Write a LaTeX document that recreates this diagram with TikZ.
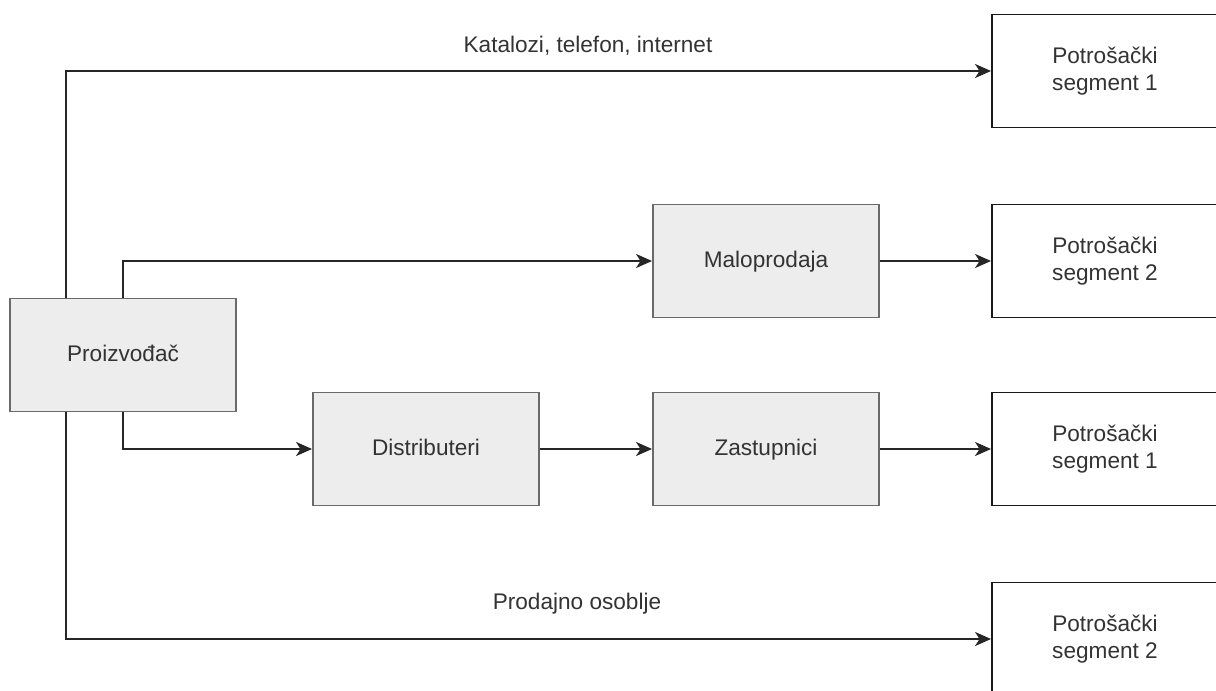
\documentclass[tikz,border=0pt]{standalone}
\usepackage{fontspec}
\setmainfont{Liberation Sans}
\usetikzlibrary{arrows.meta}
\definecolor{txt}{HTML}{333333}
\definecolor{gfill}{HTML}{EDEDED}
\definecolor{gdraw}{HTML}{6A6A6A}
\begin{document}
\begin{tikzpicture}[x=1pt,y=-1pt,
  base/.style={rectangle, minimum width=226pt, minimum height=113pt, inner sep=0pt,
    line width=1.9pt, font=\fontsize{22.6}{26.5}\selectfont, text=txt, align=center},
  graybox/.style={base, fill=gfill, draw=gdraw, text height=16.5pt, text depth=4.5pt},
  whitebox/.style={base, fill=white, draw=black!90},
  conn/.style={line width=2pt, draw=black!85, -{Stealth[length=16pt,width=14pt,inset=4.5pt]}},
  lbl/.style={font=\fontsize{22.6}{26.5}\selectfont, text=txt, inner sep=0pt}]
\useasboundingbox[fill=white] (0,0) rectangle (1216,691);
\node[graybox] (p) at (123,355) {Proizvođač};
\node[graybox] (m) at (766,261) {Maloprodaja};
\node[graybox] (d) at (426,449) {Distributeri};
\node[graybox] (z) at (766,449) {Zastupnici};
\node[whitebox] (s1) at (1105,71) {Potrošački\\segment 1};
\node[whitebox] (s2) at (1105,261) {Potrošački\\segment 2};
\node[whitebox] (s3) at (1105,449) {Potrošački\\segment 1};
\node[whitebox] (s4) at (1105,639) {Potrošački\\segment 2};
\draw[conn] ([xshift=-57pt]p.north) |- (s1.west);
\draw[conn] (p.north) |- (m.west);
\draw[conn] (p.south) |- (d.west);
\draw[conn] ([xshift=-57pt]p.south) |- (s4.west);
\draw[conn] (m.east) -- (s2.west);
\draw[conn] (d.east) -- (z.west);
\draw[conn] (z.east) -- (s3.west);
\node[lbl] (l1) at (588,46) {Katalozi, telefon, internet};
\node[lbl] (l2) at (577,604) {Prodajno osoblje};
\end{tikzpicture}
\end{document}
